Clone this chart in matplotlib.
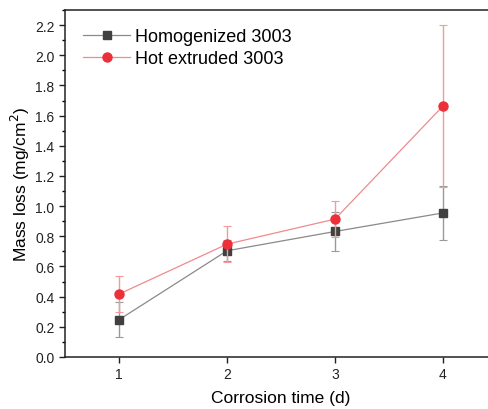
import matplotlib
matplotlib.use("Agg")
import matplotlib.pyplot as plt
from matplotlib.ticker import MultipleLocator
from matplotlib.lines import Line2D

plt.rcParams['font.family'] = ['Liberation Sans', 'DejaVu Sans']

days = [1, 2, 3, 4]
homog = [0.247, 0.704, 0.832, 0.955]
homog_err = [0.117, 0.07, 0.13, 0.18]
hot = [0.417, 0.748, 0.914, 1.664]
hot_err = [0.117, 0.118, 0.12, 0.535]

fig = plt.figure(figsize=(4.89, 4.10), dpi=100)
ax = fig.add_axes([65/489, 52/410, 432/489, 347/410])

ax.errorbar(days, homog, yerr=homog_err, color='#8a8a8a', lw=0.9, marker='s',
            ms=5.5, mfc='#404040', mec='#404040', ecolor='#9a9a9a', elinewidth=1,
            capsize=3, capthick=0.8, zorder=3)
ax.errorbar(days, hot, yerr=hot_err, color='#f08a8e', lw=0.9, marker='o',
            ms=6.5, mfc='#ec2f38', mec='#ec2f38', ecolor='#f29a9e', elinewidth=1,
            capsize=3, capthick=0.8, zorder=4)

ax.set_xlim(0.5, 4.5)
ax.set_ylim(0.0, 2.3)
ax.set_xticks(days)
ax.yaxis.set_major_locator(MultipleLocator(0.2))
ax.yaxis.set_minor_locator(MultipleLocator(0.1))
ax.yaxis.set_major_formatter(matplotlib.ticker.FormatStrFormatter('%.1f'))
ax.tick_params(axis='both', which='major', direction='out', length=4, width=1,
               labelsize=10, colors='#222222')
ax.tick_params(axis='y', which='minor', direction='out', length=2.5, width=1)
for s in ['left', 'bottom', 'top']:
    ax.spines[s].set_linewidth(1.1)
    ax.spines[s].set_color('#222222')
ax.spines['right'].set_visible(False)

ax.set_xlabel('Corrosion time (d)', fontsize=12.5, labelpad=6)
ax.set_ylabel('Mass loss (mg/cm$^2$)', fontsize=12.5, labelpad=2)

handles = [
    Line2D([], [], color='#8a8a8a', lw=0.9, marker='s', ms=5.5,
           mfc='#404040', mec='#404040'),
    Line2D([], [], color='#f08a8e', lw=0.9, marker='o', ms=6.5,
           mfc='#ec2f38', mec='#ec2f38'),
]
ax.legend(handles, ['Homogenized 3003', 'Hot extruded 3003'],
          loc='upper left', bbox_to_anchor=(0.0, 1.0), frameon=False,
          fontsize=13, handlelength=2.6, handletextpad=0.3,
          labelspacing=0.3, borderaxespad=0.6)

fig.savefig('out.png', dpi=100)
